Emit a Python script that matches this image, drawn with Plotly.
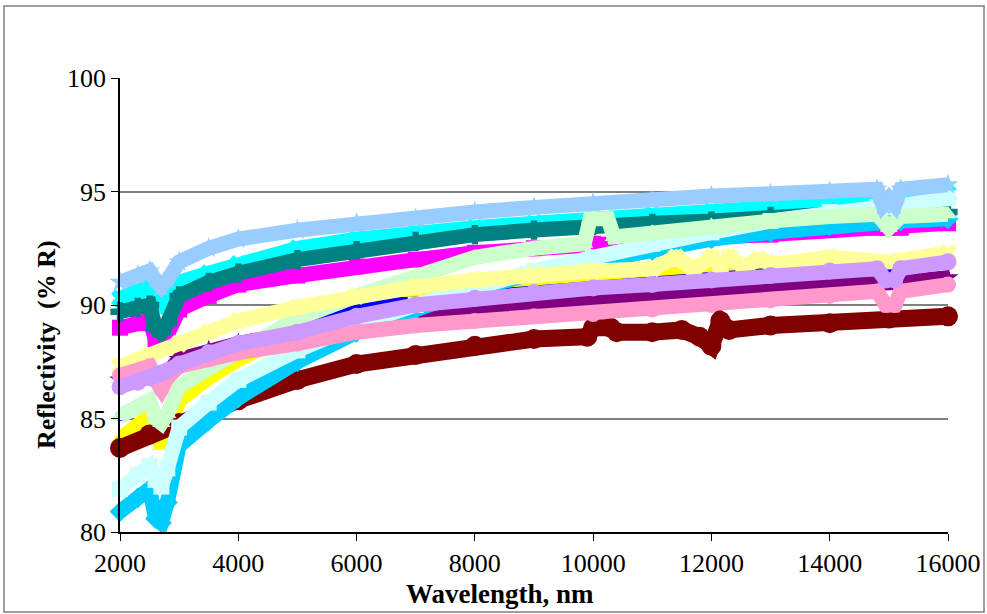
import plotly.graph_objects as go

# ---------------- data ----------------
WL_A = [2000, 2300, 2500, 2600, 2700, 2800, 3000, 3500, 4000, 5000, 6000, 7000,
        8000, 9000, 10000, 11000, 12000, 13000, 14000, 14800, 15000, 15200, 16000]

magenta = [89.0, 89.2, 89.3, 88.5, 88.4, 88.7, 89.8, 90.4, 90.9, 91.3, 91.7, 92.0,
           92.3, 92.5, 92.7, 92.8, 93.0, 93.1, 93.3, 93.4, 93.4, 93.4, 93.6]
yellow = [84.1, 84.7, 85.1, 84.3, 83.8, 84.5, 85.8, 86.8, 87.6, 88.9, 89.8, 90.3,
          90.6, 90.9, 91.1, 91.3, 91.4, 91.6, 91.7, 91.8, 91.8, 91.8, 91.9]
cyan = [90.3, 90.6, 90.8, 90.2, 90.0, 90.3, 91.0, 91.4, 91.8, 92.5, 92.9, 93.2,
        93.4, 93.6, 93.8, 94.0, 94.1, 94.3, 94.5, 94.6, 94.6, 94.6, 94.9]
purple = [86.7, 86.9, 87.0, 86.9, 86.9, 87.0, 87.6, 88.0, 88.3, 88.8, 89.2, 89.6,
          89.9, 90.1, 90.2, 90.5, 90.6, 90.8, 90.9, 91.0, 91.0, 91.0, 91.2]
teal = [89.7, 89.9, 90.0, 89.0, 88.8, 89.2, 90.4, 91.0, 91.4, 92.0, 92.4, 92.8,
        93.1, 93.3, 93.5, 93.6, 93.7, 93.9, 94.0, 94.0, 94.0, 94.0, 94.1]
blue = [85.1, 85.5, 85.8, 85.0, 84.8, 85.2, 86.4, 87.2, 87.9, 89.4, 90.0, 90.05,
        90.35, 90.6, 90.8, 90.95, 91.15, 91.35, 91.55, 91.65, 91.15, 91.65, 91.95]
sky_blue = [80.9, 81.5, 81.9, 80.6, 80.4, 81.3, 83.8, 84.9, 85.9, 87.5, 88.8, 89.8,
            90.7, 91.4, 91.9, 92.4, 92.9, 93.2, 93.5, 93.7, 93.7, 93.7, 93.8]
turquoise = [81.9, 82.5, 82.9, 82.3, 82.0, 82.8, 84.6, 85.7, 86.7, 88.0, 89.1, 90.0,
             90.8, 91.5, 92.1, 92.7, 93.2, 93.7, 94.1, 94.3, 94.3, 94.4, 94.7]

WL_MAROON = [2000, 2500, 3000, 3500, 4000, 5000, 6000, 7000, 8000, 9000, 9900, 10000,
             10300, 10400, 11000, 11500, 11800, 12000, 12150, 12300, 13000, 14000, 15000, 16000]
maroon = [83.7, 84.3, 84.8, 85.3, 85.8, 86.7, 87.4, 87.8, 88.2, 88.5, 88.6, 89.0,
          89.0, 88.8, 88.8, 88.9, 88.6, 88.2, 89.3, 88.9, 89.1, 89.2, 89.4, 89.5]

WL_GREEN = [2000, 2300, 2500, 2600, 2700, 2800, 3000, 3500, 4000, 5000, 6000, 7000,
            8000, 9000, 9850, 9950, 10250, 10350, 11000, 12000, 13000, 14000, 14800,
            15000, 15200, 16000]
light_green = [85.1, 85.5, 85.8, 85.0, 84.8, 85.2, 86.4, 87.2, 87.9, 89.4, 90.4, 91.3,
               92.1, 92.5, 92.7, 93.8, 93.8, 93.0, 93.2, 93.5, 93.7, 93.9, 94.0,
               93.4, 93.9, 94.0]

WL_LY = [2000, 2500, 3000, 3500, 4000, 5000, 6000, 7000, 8000, 9000, 10000, 11000,
         11400, 11700, 12000, 12150, 12300, 12550, 12800, 13100, 14000, 15000, 16000]
light_yellow = [87.3, 87.8, 88.3, 88.8, 89.3, 89.9, 90.4, 90.8, 91.1, 91.35, 91.5, 91.6,
                92.1, 91.6, 92.1, 91.7, 92.1, 91.7, 92.0, 91.8, 92.1, 91.9, 92.3]

WL_PB = [2000, 2300, 2500, 2600, 2700, 2800, 3000, 3500, 4000, 5000, 6000, 7000,
         8000, 9000, 10000, 11000, 12000, 13000, 14000, 14800, 14900, 15000, 15100,
         15200, 16000]
pale_blue = [91.0, 91.3, 91.5, 91.1, 90.8, 91.1, 91.9, 92.5, 92.9, 93.3, 93.6, 93.8,
             94.1, 94.3, 94.5, 94.6, 94.8, 94.9, 95.0, 95.1, 94.4, 94.7, 94.4,
             95.1, 95.3]

WL_RL = [2000, 2300, 2500, 2600, 2700, 2800, 3000, 3500, 4000, 5000, 6000, 7000,
         8000, 9000, 10000, 11000, 12000, 13000, 14000, 14800, 14950, 15100, 15200, 16000]
rose = [86.9, 87.1, 87.3, 86.7, 86.3, 86.8, 87.3, 87.6, 87.9, 88.3, 88.8, 89.1,
        89.3, 89.5, 89.6, 89.8, 90.0, 90.2, 90.4, 90.6, 90.0, 90.0, 90.6, 90.9]
lavender = [86.4, 86.6, 86.8, 86.9, 87.0, 87.1, 87.4, 87.9, 88.3, 88.8, 89.5, 90.0,
            90.3, 90.55, 90.75, 90.9, 91.1, 91.3, 91.5, 91.6, 91.1, 91.1, 91.6, 91.9]

X_TICKS = [2000, 4000, 6000, 8000, 10000, 12000, 14000, 16000]
Y_TICKS = [80, 85, 90, 95, 100]

# drawing order follows the series order of the original chart
series = [
    (WL_A, magenta, "#FF00FF", "square", 15, 16),
    (WL_A, yellow, "#FFFF00", "triangle-up", 15, 16),
    (WL_A, cyan, "#00FFFF", "x", 15, 16),
    (WL_A, purple, "#800080", "star", 15, 16),
    (WL_MAROON, maroon, "#800000", "circle", 17, 20),
    (WL_A, teal, "#008080", "cross", 15, 16),
    (WL_A, blue, "#0000FF", "circle", 14, 10),
    (WL_A, sky_blue, "#00CCFF", "diamond", 15, 16),
    (WL_A, turquoise, "#CCFFFF", "square", 15, 16),
    (WL_GREEN, light_green, "#CCFFCC", "triangle-up", 15, 16),
    (WL_LY, light_yellow, "#FFFF99", "x", 15, 16),
    (WL_PB, pale_blue, "#99CCFF", "star", 15, 16),
    (WL_RL, rose, "#FF99CC", "circle", 15, 16),
    (WL_RL, lavender, "#CC99FF", "circle", 15, 17),
]

fig = go.Figure()
for xs, ys, col, sym, lw, ms in series:
    fig.add_trace(go.Scatter(
        x=xs, y=ys, mode="lines+markers",
        line=dict(color=col, width=lw),
        marker=dict(color=col, size=ms, symbol=sym, line=dict(width=0)),
        cliponaxis=False, showlegend=False, hoverinfo="skip"))

serif = "Liberation Serif, Times New Roman, serif"
fig.update_layout(
    width=987, height=614,
    margin=dict(l=120, r=39, t=78, b=82, autoexpand=False),
    paper_bgcolor="white", plot_bgcolor="white",
    font=dict(family=serif, color="black"),
    showlegend=False,
)
fig.update_xaxes(
    range=[2000, 16000], tickvals=X_TICKS, ticktext=[str(v) for v in X_TICKS],
    showgrid=False, zeroline=False, automargin=False,
    showline=True, linecolor="black", linewidth=1.5,
    ticks="outside", ticklen=7, tickcolor="black", tickwidth=1,
    tickfont=dict(family=serif, size=26, color="black"),
)
fig.update_yaxes(
    range=[80, 100], tickvals=Y_TICKS, ticktext=[str(v) for v in Y_TICKS],
    showgrid=True, gridcolor="#808080", gridwidth=1.5, zeroline=False,
    automargin=False,
    showline=True, linecolor="black", linewidth=1.5,
    ticks="outside", ticklen=7, tickcolor="black", tickwidth=1,
    tickfont=dict(family=serif, size=26, color="black"),
)
# axis titles placed where the original puts them
fig.add_annotation(
    text="Reflectivity  (% R)", textangle=-90, showarrow=False,
    xref="paper", yref="paper", x=(46 - 120) / 828, y=(532 - 345) / 454,
    xanchor="center", yanchor="middle",
    font=dict(family=serif, size=26, color="black", weight="bold"))
fig.add_annotation(
    text="Wavelength, nm", showarrow=False,
    xref="paper", yref="paper", x=(500 - 120) / 828, y=(532 - 594) / 454,
    xanchor="center", yanchor="middle",
    font=dict(family=serif, size=27, color="black", weight="bold"))
# outer chart border
fig.add_shape(type="rect", xref="paper", yref="paper",
              x0=(4 - 120) / 828, x1=(984 - 120) / 828,
              y0=(532 - 612) / 454, y1=(532 - 6) / 454,
              line=dict(color="#808080", width=1.5), fillcolor="rgba(0,0,0,0)",
              layer="below")

fig.write_html("out.html")
